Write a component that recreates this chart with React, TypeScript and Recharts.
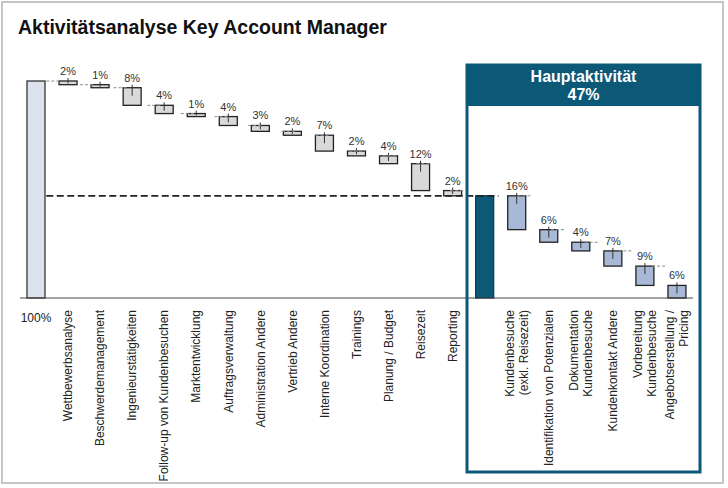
import { BarChart, Bar, XAxis, YAxis, ReferenceLine } from "recharts"

const TITLE = "Aktivitätsanalyse Key Account Manager"
const START_LABEL = "100%"

// Nebenaktivitäten (links), Anteil in %
const SIDE_NAMES = [
  "Wettbewerbsanalyse",
  "Beschwerdemanagement",
  "Ingenieurstätigkeiten",
  "Follow-up von Kundenbesuchen",
  "Marktentwicklung",
  "Auftragsverwaltung",
  "Administration Andere",
  "Vertrieb Andere",
  "Interne Koordination",
  "Trainings",
  "Planung / Budget",
  "Reisezeit",
  "Reporting",
]
const SIDE_VALUES = [1.7, 1.4, 8.1, 3.8, 1.4, 4.1, 2.7, 1.8, 7.3, 2.2, 3.6, 12.4, 2.4]

// Hauptaktivität (rechts), Anteil in %
const MAIN_TITLE = "Hauptaktivität"
const MAIN_NAMES = [
  "Kundenbesuche\n(exkl. Reisezeit)",
  "Identifikation von Potenzialen",
  "Dokumentation\nKundenbesuche",
  "Kundenkontakt Andere",
  "Vorbereitung\nKundenbesuche",
  "Angebotserstellung /\nPricing",
]
const MAIN_VALUES = [15.6, 5.8, 4.0, 7.0, 8.9, 5.8]

const W = 728
const H = 488
const MARGIN = { top: 81, right: 35, bottom: 0, left: 20 }
const AXIS_H = 190
const BAR = 18
const FONT = "'Liberation Sans', Arial, sans-serif"
const TEAL = "#0B5877"

type Kind = "total" | "step" | "sub" | "main"
type Row = { name: string; base: number; value: number; kind: Kind }

const FILL: Record<Kind, string> = { total: "#DCE3EE", step: "#D9D9D9", sub: TEAL, main: "#A7B9D7" }
const STROKE: Record<Kind, string> = { total: "#333", step: "#222", sub: "#0A3F55", main: "#222" }

const mainTotal = MAIN_VALUES.reduce((a, b) => a + b, 0)

function buildRows(): Row[] {
  const rows: Row[] = [{ name: START_LABEL, base: 0, value: 100, kind: "total" }]
  let level = 100
  SIDE_NAMES.forEach((name, i) => {
    level -= SIDE_VALUES[i]
    rows.push({ name, base: level, value: SIDE_VALUES[i], kind: "step" })
  })
  rows.push({ name: MAIN_TITLE, base: 0, value: mainTotal, kind: "sub" })
  level = mainTotal
  MAIN_NAMES.forEach((name, i) => {
    level -= MAIN_VALUES[i]
    rows.push({ name, base: level, value: MAIN_VALUES[i], kind: "main" })
  })
  return rows
}

const rows = buildRows()
const N = rows.length
const band = (W - MARGIN.left - MARGIN.right) / N
const half = BAR / 2 / band // half bar width in category units

const outLevel = (r: Row) => (r.kind === "total" || r.kind === "sub" ? r.base + r.value : r.base)

// grey connectors between neighbouring bars
const connectors = rows.slice(0, -1).flatMap((r, i) =>
  rows[i + 1].kind === "sub"
    ? []
    : [{ x1: i + 0.5 + half, x2: i + 1.5 - half, y: outLevel(r) }]
)
const subIndex = rows.findIndex((r) => r.kind === "sub")

function StepBar(props: any) {
  const { x, y, width, height, payload } = props
  const kind: Kind = payload.kind
  const cx = x + width / 2
  const labelled = kind === "step" || kind === "main"
  return (
    <g>
      <rect x={x} y={y} width={width} height={height} fill={FILL[kind]} stroke={STROKE[kind]} strokeWidth={1.3} />
      {labelled && (
        <line x1={cx} x2={cx} y1={y - 3} y2={y + Math.min(8, height * 0.65)} stroke="#333" strokeWidth={1} />
      )}
      {labelled && (
        <text x={cx} y={y - 6} textAnchor="middle" fontSize={11} fill="#333" fontFamily={FONT}>
          {Math.round(payload.value)}%
        </text>
      )}
    </g>
  )
}

function CategoryTick(props: any) {
  const { x, y, payload } = props
  const name: string = payload.value
  if (name === MAIN_TITLE) return null
  if (name === START_LABEL) {
    return (
      <text x={x} y={y + 24} textAnchor="middle" fontSize={12} fill="#222" fontFamily={FONT}>
        {name}
      </text>
    )
  }
  const lines = name.split("\n")
  const lh = 14.5
  return (
    <g transform={`translate(${x},${y + 12})`}>
      <text transform="rotate(-90)" textAnchor="end" fontSize={12} fill="#222" fontFamily={FONT}>
        {lines.map((l, i) => (
          <tspan key={i} x={0} y={(i - (lines.length - 1) / 2) * lh + 4.2}>
            {l}
          </tspan>
        ))}
      </text>
    </g>
  )
}

export default function App() {
  return (
    <div style={{ position: "absolute", left: 0, top: 0, width: W, height: H, background: "#fff" }}>
      <BarChart width={W} height={H} data={rows} margin={MARGIN} barSize={BAR}>
        <XAxis
          xAxisId="cat"
          dataKey="name"
          height={AXIS_H}
          interval={0}
          tickLine={false}
          tickSize={0}
          tickMargin={0}
          axisLine={{ stroke: "#444", strokeWidth: 1 }}
          tick={<CategoryTick />}
        />
        <XAxis xAxisId="num" type="number" domain={[0, N]} hide />
        <YAxis hide domain={[0, 100]} />
        {connectors.map((c, i) => (
          <ReferenceLine
            key={i}
            xAxisId="num"
            segment={[{ x: c.x1, y: c.y }, { x: c.x2, y: c.y }]}
            stroke="#8C8C8C"
            strokeDasharray="3 2"
            strokeWidth={1}
          />
        ))}
        <ReferenceLine
          xAxisId="num"
          segment={[
            { x: 0.5 + half, y: mainTotal },
            { x: subIndex + 0.5 - half, y: mainTotal },
          ]}
          stroke="#222"
          strokeDasharray="7 3.5"
          strokeWidth={1.8}
        />
        <Bar xAxisId="cat" dataKey="base" stackId="w" fill="transparent" isAnimationActive={false} />
        <Bar xAxisId="cat" dataKey="value" stackId="w" shape={<StepBar />} isAnimationActive={false} />
      </BarChart>
      <svg
        width={W}
        height={H}
        style={{ position: "absolute", left: 0, top: 0, pointerEvents: "none" }}
        fontFamily={FONT}
      >
        <rect x={2} y={2} width={721} height={481} fill="none" stroke="#C6C6C6" strokeWidth={2} />
        <text x={18} y={34} fontSize={19.5} fontWeight="bold" fill="#111">
          {TITLE}
        </text>
        <rect x={467} y={65} width={233} height={407} fill="none" stroke={TEAL} strokeWidth={3} />
        <rect x={467} y={65} width={233} height={41} fill={TEAL} />
        <text x={583.5} y={82} textAnchor="middle" fontSize={16} fontWeight="bold" fill="#fff">
          {MAIN_TITLE}
        </text>
        <text x={583.5} y={100} textAnchor="middle" fontSize={16} fontWeight="bold" fill="#fff">
          {Math.round(mainTotal)}%
        </text>
      </svg>
    </div>
  )
}
